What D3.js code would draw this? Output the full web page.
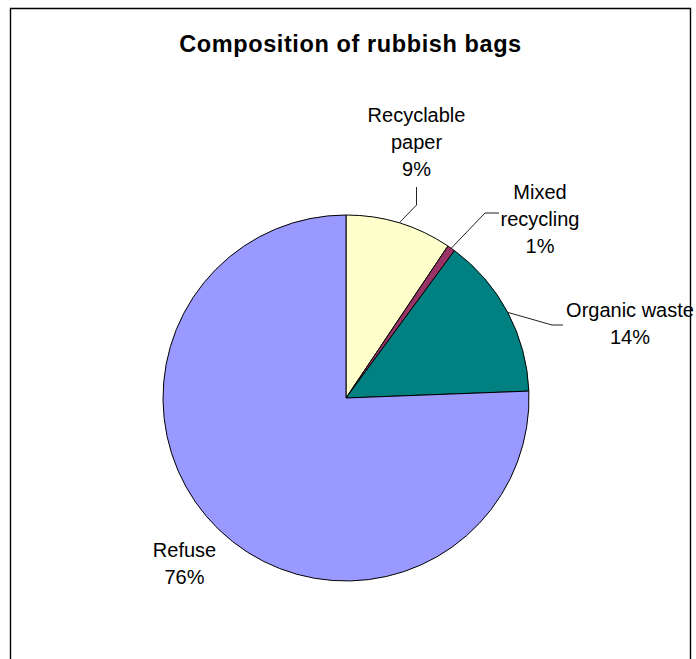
<!DOCTYPE html>
<html>
<head>
<meta charset="utf-8">
<script src="https://cdn.jsdelivr.net/npm/d3@7"></script>
<style>
  html, body { margin: 0; padding: 0; background: #fff; }
  svg { display: block; }
  text { font-family: "Liberation Sans", Arial, sans-serif; fill: #000; }
</style>
</head>
<body>
<svg id="chart" width="696" height="659"></svg>
<script>
// ---- data ----
const title = "Composition of rubbish bags";
const categories = ["Recyclable paper", "Mixed recycling", "Organic waste", "Refuse"];
const values = [9.4, 0.7, 14.3, 75.6];
const colors = ["#FFFFCC", "#993366", "#008080", "#9999FF"];
// label lines (text split per line)
const labelLines = [["Recyclable", "paper"], ["Mixed", "recycling"], ["Organic waste"], ["Refuse"]];

// ---- layout ----
const W = 696, H = 659;
const cx = 346, cy = 398, R = 183;
// label centre x, first baseline y, and leader elbow/end points (layout, not data)
const labelLayout = [
  { x: 416.5, y: 122, elbow: [416.5, 205], end: [416.5, 187] },
  { x: 540,   y: 199, elbow: [485, 213],   end: [499, 213] },
  { x: 630,   y: 317, elbow: [552, 325],   end: [563, 325] },
  { x: 184.5, y: 557, elbow: null,         end: null }
];
const lineH = 26.8;

const svg = d3.select("#chart");

// frame
svg.append("path")
  .attr("d", `M10.5,${H + 2} L10.5,8.5 L690.5,8.5 L690.5,${H + 2}`)
  .attr("fill", "none").attr("stroke", "#000").attr("stroke-width", 1.4);

// title
svg.append("text")
  .attr("x", 350.5).attr("y", 52)
  .attr("text-anchor", "middle")
  .style("font-size", "23.5px").style("font-weight", "bold")
  .style("letter-spacing", "0.6px")
  .text(title);

const data = categories.map((c, i) => ({ name: c, value: values[i], color: colors[i], i }));
const total = d3.sum(values);

const pie = d3.pie().sort(null).value(d => d.value);
const arcs = pie(data);
const arc = d3.arc().innerRadius(0).outerRadius(R);

const g = svg.append("g").attr("transform", `translate(${cx},${cy})`);
g.selectAll("path.slice")
  .data(arcs)
  .join("path")
  .attr("class", "slice")
  .attr("d", arc)
  .attr("fill", d => d.data.color)
  .attr("stroke", "#000")
  .attr("stroke-width", 1)
  .attr("stroke-linejoin", "round");

// leader lines
arcs.forEach((a, i) => {
  const L = labelLayout[i];
  if (!L.elbow) return;
  const mid = (a.startAngle + a.endAngle) / 2;
  const sx = cx + R * Math.sin(mid), sy = cy - R * Math.cos(mid);
  svg.append("polyline")
    .attr("points", [[sx, sy], L.elbow, L.end].map(p => p.join(",")).join(" "))
    .attr("fill", "none").attr("stroke", "#222").attr("stroke-width", 1);
});

// labels
arcs.forEach((a, i) => {
  const L = labelLayout[i];
  const pct = Math.round(a.data.value / total * 100) + "%";
  const lines = labelLines[i].concat([pct]);
  const t = svg.append("text")
    .attr("text-anchor", "middle")
    .style("font-size", "20px");
  lines.forEach((ln, k) => {
    t.append("tspan").attr("x", L.x).attr("y", L.y + k * lineH).text(ln);
  });
});
</script>
</body>
</html>
